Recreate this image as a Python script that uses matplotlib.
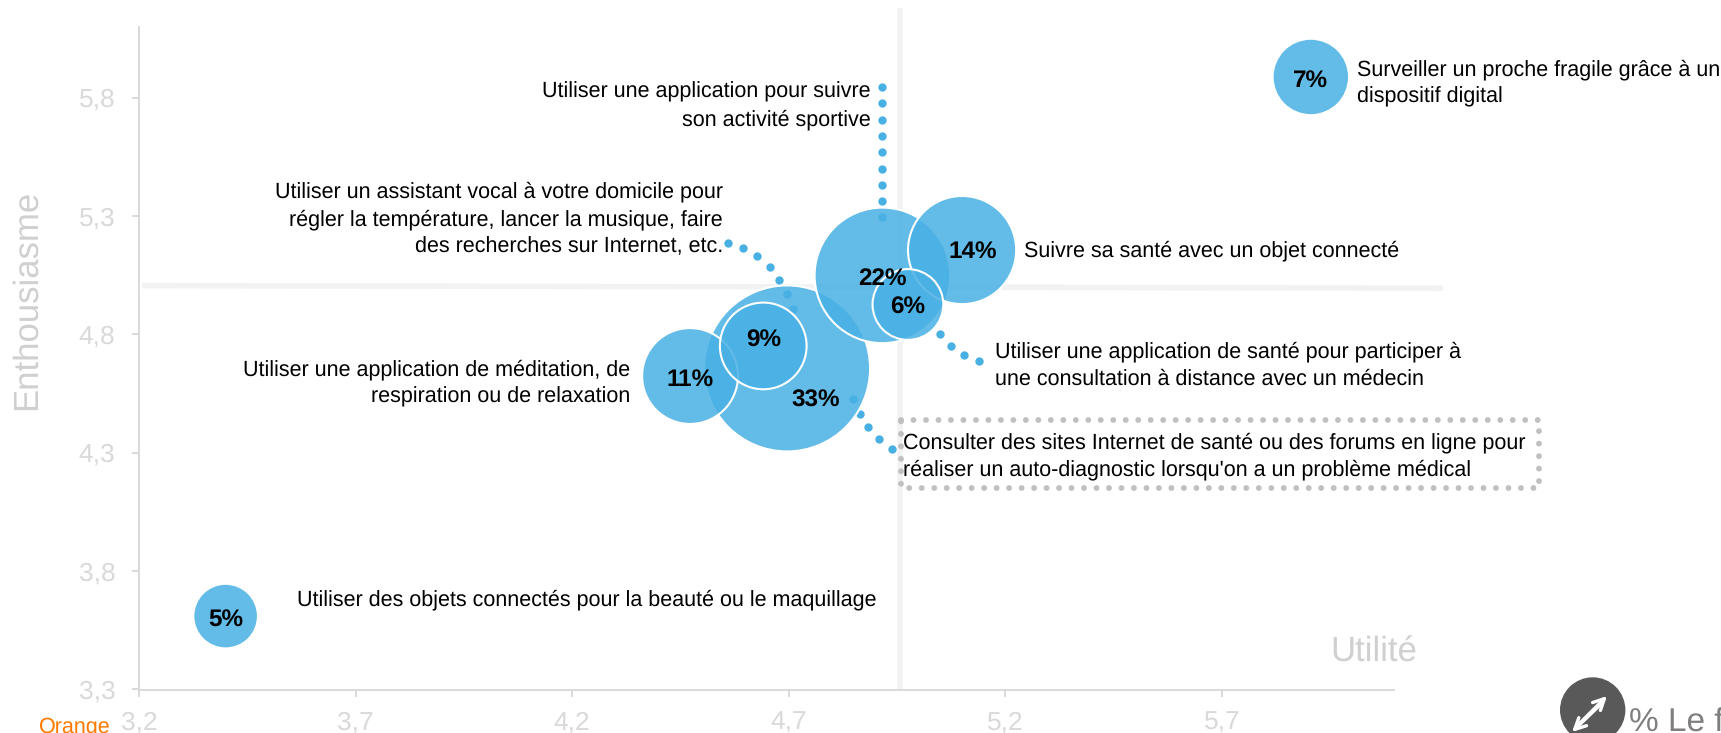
import matplotlib
matplotlib.use("Agg")
import matplotlib.pyplot as plt
from matplotlib.colors import to_rgba
import numpy as np

plt.rcParams['font.family'] = ['Liberation Sans', 'DejaVu Sans']
plt.rcParams['text.hinting'] = 'no_hinting'

# donnees
pct = [33, 22, 14, 11, 9, 7, 6, 5]
utilite = [4.696, 4.916, 5.10, 4.472, 4.641, 5.905, 4.975, 3.40]
enthousiasme = [4.656, 5.049, 5.156, 4.624, 4.751, 5.887, 4.926, 3.61]
xticks = [3.2, 3.7, 4.2, 4.7, 5.2, 5.7]
yticks = [3.3, 3.8, 4.3, 4.8, 5.3, 5.8]
xticklabels = ['3,2', '3,7', '4,2', '4,7', '5,2', '5,7']
yticklabels = ['3,3', '3,8', '4,3', '4,8', '5,3', '5,8']

# points des traits de rappel
lead1_x = [4.916] * 9
lead1_y = [5.844, 5.776, 5.707, 5.637, 5.569, 5.500, 5.431, 5.362, 5.295]
lead2_x = [4.559, 4.595, 4.627, 4.656, 4.678, 4.696, 4.709]
lead2_y = [5.184, 5.164, 5.131, 5.083, 5.031, 4.969, 4.906]
lead3_x = [5.049, 5.074, 5.105, 5.140]
lead3_y = [4.800, 4.751, 4.711, 4.687]
lead4_x = [4.848, 4.864, 4.883, 4.908, 4.938]
lead4_y = [4.528, 4.465, 4.407, 4.357, 4.316]

# decalage des etiquettes par rapport au centre des bulles
lab_dx = [0.065, 0, 0.025, 0, 0, 0, 0, 0]
lab_dy = [-0.137, -0.014, -0.005, -0.014, 0.023, -0.014, -0.014, -0.014]

W, H = 1721, 733
fig = plt.figure(figsize=(W / 100, H / 100), dpi=100)
ax = fig.add_axes([139 / W, 1 - 689.5 / H, (1394 - 139) / W, (689.5 - 27) / H])
ax.set_xlim(3.2, 6.097)
ax.set_ylim(3.3, 6.098)

grid_c = '#F2F2F2'
ax.plot([3.207, 6.21], [5.006, 4.995], color=grid_c, lw=4, clip_on=False, zorder=1, solid_capstyle='butt')
ax.plot([4.957, 4.957], [3.3, 6.18], color=grid_c, lw=4, clip_on=False, zorder=1, solid_capstyle='butt')

for lx, ly in [(lead1_x, lead1_y), (lead2_x, lead2_y), (lead3_x, lead3_y), (lead4_x, lead4_y)]:
    ax.scatter(lx, ly, s=36, color='#49B0E4', linewidths=0, zorder=2, clip_on=False)

ax.scatter(utilite, enthousiasme, s=[p * 433 for p in pct], facecolors=to_rgba('#49B0E4', 0.86),
           edgecolors='white', linewidths=1.5, zorder=3, clip_on=False)
for p, x, y, dx, dy in zip(pct, utilite, enthousiasme, lab_dx, lab_dy):
    ax.text(x + dx, y + dy, f'{p}%', ha='center', va='center',
            fontsize=17.5, fontweight='bold', color='black', zorder=5)

for s in ['top', 'right']:
    ax.spines[s].set_visible(False)
for s in ['left', 'bottom']:
    ax.spines[s].set_color('#D9D9D9')
    ax.spines[s].set_linewidth(1.4)
ax.set_xticks(xticks, xticklabels)
ax.set_yticks(yticks, yticklabels)
ax.tick_params(colors='#D9D9D9', labelsize=19, length=5, width=1.4)
ax.tick_params(axis='y', pad=12)
ax.tick_params(axis='x', pad=10)


def label(x, y, s, ha='left'):
    fig.text(x / W, 1 - y / H, s, ha=ha, va='center', fontsize=15.5, color='black', linespacing=1.42, zorder=6)


label(1357, 83, 'Surveiller un proche fragile grâce à un\ndispositif digital')
label(871, 106, 'Utiliser une application pour suivre\nson activité sportive', 'right')
label(723, 219, 'Utiliser un assistant vocal à votre domicile pour\nrégler la température, lancer la musique, faire\ndes recherches sur Internet, etc.', 'right')
label(1024, 251, 'Suivre sa santé avec un objet connecté')
label(995, 365, 'Utiliser une application de santé pour participer à\nune consultation à distance avec un médecin')
label(630, 383, 'Utiliser une application de méditation, de\nrespiration ou de relaxation', 'right')
label(903, 456, "Consulter des sites Internet de santé ou des forums en ligne pour\nréaliser un auto-diagnostic lorsqu'on a un problème médical")
label(877, 600, 'Utiliser des objets connectés pour la beauté ou le maquillage', 'right')

# cadre pointille gris
box_x = np.array([900.7, 1539.3, 1539.3, 900.7, 900.7]) / W
box_y = 1 - np.array([420.3, 420.3, 487.7, 487.7, 420.3]) / H
fig.add_artist(plt.Line2D(box_x, box_y, color='#C0C0C0', lw=4.2, linestyle=(0, (0.01, 2.13)),
                          dash_capstyle='round', transform=fig.transFigure))

fig.text(27 / W, 1 - 300 / H, 'Enthousiasme', rotation=90, ha='center', va='center', fontsize=25, color='#D0D0D0')
fig.text(1374 / W, 1 - 653 / H, 'Utilité', ha='center', va='center', fontsize=25, color='#D0D0D0')
fig.text(39 / W, 1 - 727 / H, 'Orange', ha='left', va='center', fontsize=15.5, color='#FF7900')
fig.text(1629 / W, 1 - 723 / H, '% Le fa', ha='left', va='center', fontsize=24, color='#7F7F7F')

# icone en bas a droite
fig.add_artist(matplotlib.patches.Ellipse((1592.7 / W, 1 - 710 / H), 64 / W, 64 / H, color='#595959',
                                          transform=fig.transFigure, zorder=-1))
for tip, tail in [((1607, 696), (1579, 724)), ((1572, 732), (1601, 704))]:
    ax.annotate('', xy=(tip[0] / W, 1 - tip[1] / H), xytext=(tail[0] / W, 1 - tail[1] / H),
                xycoords='figure fraction', textcoords='figure fraction', annotation_clip=False,
                arrowprops=dict(arrowstyle='->', mutation_scale=20, color='white', lw=2.4, shrinkA=0, shrinkB=0), zorder=8)

fig.savefig('out.png', dpi=100)
